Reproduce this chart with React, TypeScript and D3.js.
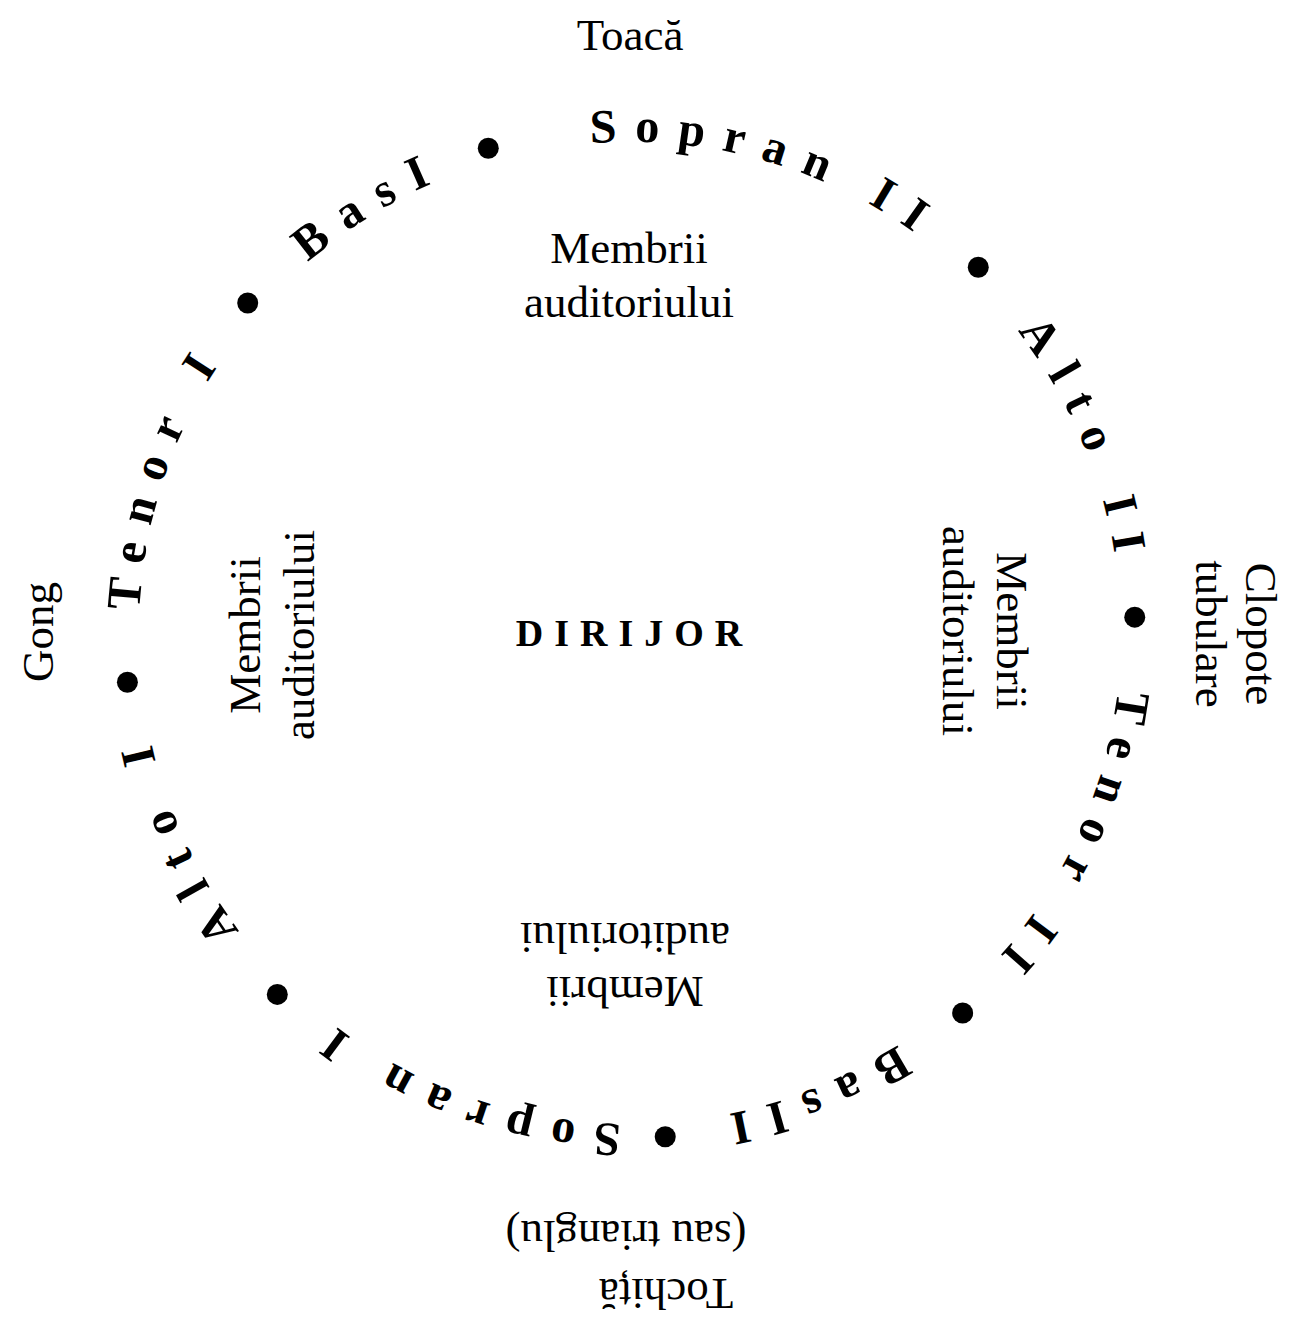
import * as d3 from "d3";

// choir sections written around the ring, clockwise from the top
const SECTIONS = ["Sopran II", "Alto II", "Tenor II", "Bas II", "Sopran I", "Alto I", "Tenor I", "Bas I"];
// centre angle of each section label, degrees clockwise from 12 o'clock
const SECTION_ANGLES = [15.3, 66.3, 113.8, 157.6, 198.8, 244.7, 287.6, 327.5];
// separator dots between sections
const DOT_ANGLES = [343.7, 43.6, 88.2, 138.8, 176.0, 224.3, 264.4, 310.8];

// instruments outside the ring (top, right, bottom, left)
const INSTRUMENTS = [["Toacă"], ["Clopote", "tubulare"], ["Tochiță", "(sau trianglu)"], ["Gong"]];
// audience blocks inside the ring (top, right, bottom, left)
const AUDIENCE = [
  ["Membrii", "auditoriului"],
  ["Membrii", "auditoriului"],
  ["Membrii", "auditoriului"],
  ["Membrii", "auditoriului"],
];
const CENTER_LABEL = "DIRIJOR";

const W = 1296;
const H = 1319;
const CX = 630;
const CY = 633;
const R_DOT = 505;
const R_TEXT = 491; // baseline of the ring text
const FONT = "'Liberation Serif', 'Times New Roman', serif";
const RING_SIZE = 48;
const RING_SPACING = 18;

const deg = d3.scaleLinear().domain([0, 360]).range([0, 2 * Math.PI]);

const instrumentLayout = [
  { x: 630, y: 34, rot: 0, lh: 52, dx: [0] },
  { x: 1237, y: 634, rot: 90, lh: 50, dx: [0, 0] },
  { x: 626, y: 1266, rot: 180, lh: 58, dx: [-40, 0] },
  { x: 37, y: 632, rot: -90, lh: 52, dx: [0] },
];
const audienceLayout = [
  { x: 629, y: 274, rot: 0, lh: 54 },
  { x: 986, y: 631, rot: 90, lh: 54 },
  { x: 625, y: 966, rot: 180, lh: 54 },
  { x: 271, y: 635, rot: -90, lh: 54 },
];

function Block({ lines, x, y, rot, lh, dx }: any) {
  const n = lines.length;
  return (
    <g transform={`translate(${x},${y}) rotate(${rot})`}>
      {lines.map((t: string, i: number) => (
        <text
          key={i}
          x={dx ? dx[i] : 0}
          y={(i - (n - 1) / 2) * lh + 0.35 * 45}
          textAnchor="middle"
          fontFamily={FONT}
          fontSize={45}
          fill="#000"
        >
          {t}
        </text>
      ))}
    </g>
  );
}

export default function App() {
  // two clockwise turns starting at 12 o'clock, so no label straddles the path start
  const p = d3.path();
  for (let k = 0; k < 4; k++) {
    const a0 = -Math.PI / 2 + k * Math.PI;
    p.arc(CX, CY, R_TEXT, a0, a0 + Math.PI);
  }
  const ringPath = p.toString();

  return (
    <svg
      width={W}
      height={H}
      viewBox={`0 0 ${W} ${H}`}
      style={{ position: "absolute", left: 0, top: 0, background: "#fff" }}
    >
      <defs>
        <path id="ring" d={ringPath} fill="none" />
      </defs>

      {DOT_ANGLES.map((a, i) => (
        <circle
          key={i}
          cx={CX + R_DOT * Math.sin(deg(a))}
          cy={CY - R_DOT * Math.cos(deg(a))}
          r={10.5}
          fill="#000"
        />
      ))}

      {SECTIONS.map((s, i) => {
        const tight = s.startsWith("Bas");
        const offset = (deg(SECTION_ANGLES[i]) + 2 * Math.PI) * R_TEXT + RING_SPACING / 2;
        return (
          <text
            key={s}
            fontFamily={FONT}
            fontWeight="bold"
            fontSize={RING_SIZE}
            fill="#000"
            style={{
              letterSpacing: `${RING_SPACING}px`,
              wordSpacing: tight ? `${-(RING_SPACING + RING_SIZE * 0.25)}px` : "0px",
            }}
          >
            <textPath href="#ring" startOffset={offset} textAnchor="middle">
              {s}
            </textPath>
          </text>
        );
      })}

      {INSTRUMENTS.map((lines, i) => (
        <Block key={"ins" + i} lines={lines} {...instrumentLayout[i]} />
      ))}
      {AUDIENCE.map((lines, i) => (
        <Block key={"aud" + i} lines={lines} {...audienceLayout[i]} />
      ))}

      <text
        x={629 + 5.5}
        y={646}
        textAnchor="middle"
        fontFamily={FONT}
        fontWeight="bold"
        fontSize={38}
        style={{ letterSpacing: "11px" }}
      >
        {CENTER_LABEL}
      </text>
    </svg>
  );
}
